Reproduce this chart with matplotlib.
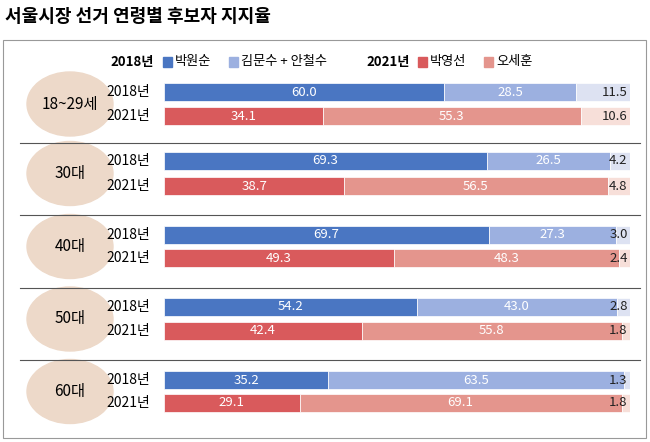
import matplotlib
matplotlib.use("Agg")
import matplotlib.pyplot as plt
from matplotlib.patches import Rectangle, Ellipse

plt.rcParams['font.family'] = ['Noto Sans CJK KR', 'DejaVu Sans']

groups = ['18~29세', '30대', '40대', '50대', '60대']
years = ['2018년', '2021년']
s2018_park = [60.0, 69.3, 69.7, 54.2, 35.2]
s2018_kimahn = [28.5, 26.5, 27.3, 43.0, 63.5]
s2018_other = [11.5, 4.2, 3.0, 2.8, 1.3]
s2021_park = [34.1, 38.7, 49.3, 42.4, 29.1]
s2021_oh = [55.3, 56.5, 48.3, 55.8, 69.1]
s2021_other = [10.6, 4.8, 2.4, 1.8, 1.8]

c18 = ['#4a76c2', '#9cb0e0', '#dde2f2']
c21 = ['#d95a5c', '#e4958d', '#f7dfd9']

W, H = 650, 442
fig = plt.figure(figsize=(6.5, 4.42), dpi=100)
bg = fig.add_axes([0, 0, 1, 1])
bg.set_xlim(0, W); bg.set_ylim(H, 0); bg.axis('off')

bg.text(5, 17, '서울시장 선거 연령별 후보자 지지율', fontsize=13, fontweight='bold', va='center', ha='left')
bg.add_patch(Rectangle((3, 40), 643, 398, fill=False, ec='#999999', lw=0.8))

ly = 62
bg.text(110, ly, '2018년', fontsize=9.5, fontweight='bold', va='center')
bg.add_patch(Rectangle((163, ly-5), 9, 10, color=c18[0]))
bg.text(175, ly, '박원순', fontsize=9.5, va='center')
bg.add_patch(Rectangle((229, ly-5), 9, 10, color=c18[1]))
bg.text(241, ly, '김문수 + 안철수', fontsize=9.5, va='center')
bg.text(366, ly, '2021년', fontsize=9.5, fontweight='bold', va='center')
bg.add_patch(Rectangle((418, ly-5), 9, 10, color=c21[0]))
bg.text(430, ly, '박영선', fontsize=9.5, va='center')
bg.add_patch(Rectangle((484, ly-5), 9, 10, color=c21[1]))
bg.text(496, ly, '오세훈', fontsize=9.5, va='center')

row_y = [(92, 116), (161, 186), (235, 258), (307, 331), (380, 403)]
for sy in [143, 215, 288, 360]:
    bg.plot([20, 640], [sy, sy], color='#555555', lw=0.8)

bx = fig.add_axes([164/W, 0, 466/W, 1])
bx.set_xlim(0, 100); bx.set_ylim(H, 0); bx.axis('off')
bh = 18
for i, g in enumerate(groups):
    y1, y2 = row_y[i]
    bg.add_patch(Ellipse((70, (y1+y2)/2), 86, 64, color='#edd9c9'))
    bg.text(70, (y1+y2)/2, g, fontsize=11, ha='center', va='center')
    for y, yr in zip((y1, y2), years):
        bg.text(150, y, yr, fontsize=10, ha='right', va='center')
    for y, vals, cols in ((y1, [s2018_park[i], s2018_kimahn[i], s2018_other[i]], c18),
                          (y2, [s2021_park[i], s2021_oh[i], s2021_other[i]], c21)):
        left = 0
        for k, (v, c) in enumerate(zip(vals, cols)):
            bx.barh(y, v, left=left, height=bh, color=c, ec='white', lw=0.5)
            if k < 2:
                bx.text(left + v/2, y, f'{v:.1f}', color='white', fontsize=9.5, ha='center', va='center')
            else:
                bx.text(99.5, y, f'{v:.1f}', color='#222222', fontsize=9.5, ha='right', va='center')
            left += v

fig.savefig('out.png', dpi=100, facecolor='white')
